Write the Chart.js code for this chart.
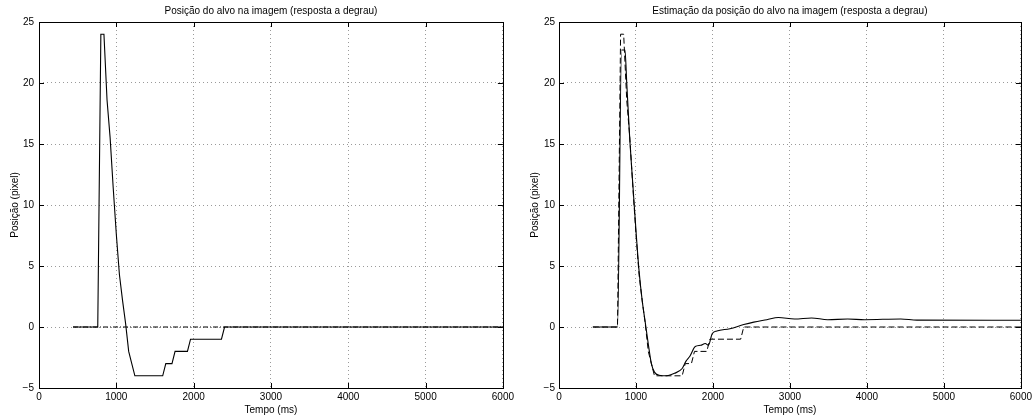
<!DOCTYPE html>
<html>
<head>
<meta charset="utf-8">
<script src="https://cdn.jsdelivr.net/npm/chart.js@4/dist/chart.umd.min.js"></script>
<style>
  body { margin: 0; background: #fff; }
  .box { position: absolute; top: 0; height: 419px; }
  #left { left: 0; width: 517px; }
  #right { left: 517px; width: 518px; }
</style>
</head>
<body>
<div class="box" id="left"><canvas id="chartMeas"></canvas></div>
<div class="box" id="right"><canvas id="chartEst"></canvas></div>
<script>
// measured target position (pixel) vs time (ms)
const tMeas = [440, 760, 800, 840, 880, 920, 960, 1000, 1040, 1080, 1120, 1160, 1200, 1240, 1600, 1640, 1720, 1760, 1920, 1960, 2360, 2400, 6000]
const posMeas = [0, 0, 24, 24, 18.6, 15.5, 11.4, 7.6, 4.3, 2.2, 0.3, -2, -3, -4, -4, -3, -3, -2, -2, -1, -1, 0, 0]

// reference (set point)
const tRef = [440, 6000]
const posRef = [0, 0]

// estimated position
const tEst = [440, 760, 813, 857, 880, 920, 960, 1000, 1040, 1080, 1120, 1160, 1200, 1240, 1300, 1400, 1500, 1600, 1650, 1700, 1770, 1840, 1900, 1940, 1990, 2050, 2220, 2400, 2530, 2700, 2850, 3060, 3280, 3490, 3750, 3970, 4440, 4650, 6000]
const posEst = [0, 0, 22.7, 22.7, 20, 15.3, 11.6, 7.9, 4.6, 2.2, 0.4, -1.4, -3.0, -3.7, -3.95, -4.0, -3.8, -3.4, -2.8, -2.4, -1.6, -1.5, -1.35, -1.5, -0.55, -0.33, -0.14, 0.2, 0.4, 0.6, 0.78, 0.65, 0.74, 0.6, 0.65, 0.6, 0.66, 0.56, 0.55]

const xTicks = [0, 1000, 2000, 3000, 4000, 5000, 6000]
const yTicks = [-5, 0, 5, 10, 15, 20, 25]

Chart.defaults.font.family = "'Liberation Sans', Arial, sans-serif"
Chart.defaults.font.size = 10
Chart.defaults.color = '#000'

const toPoints = (xs, ys) => xs.map((x, i) => ({ x: x, y: ys[i] }))

// matlab style box with inward ticks
const boxPlugin = {
    id: 'box',
    afterDraw(chart) {
        const ctx = chart.ctx
        const { left, right, top, bottom } = chart.chartArea
        const xs = chart.scales.x
        const ys = chart.scales.y
        ctx.save()
        ctx.strokeStyle = '#000'
        ctx.lineWidth = 1
        ctx.beginPath()
        xTicks.forEach(v => {
            const p = Math.round(xs.getPixelForValue(v)) + 0.5
            ctx.moveTo(p, bottom); ctx.lineTo(p, bottom - 5)
            ctx.moveTo(p, top); ctx.lineTo(p, top + 5)
        })
        yTicks.forEach(v => {
            const p = Math.round(ys.getPixelForValue(v)) + 0.5
            ctx.moveTo(left, p); ctx.lineTo(left + 5, p)
            ctx.moveTo(right, p); ctx.lineTo(right - 5, p)
        })
        ctx.stroke()
        ctx.strokeRect(Math.round(left) + 0.5, Math.round(top) + 0.5, Math.round(right - left), Math.round(bottom - top))
        ctx.restore()
    }
}

function makeOptions(title, yWidth, yTitlePad, yTickPad, padRight) {
    return {
        responsive: true,
        maintainAspectRatio: false,
        animation: false,
        layout: { padding: { left: 0, right: padRight, top: 0, bottom: 0 } },
        plugins: {
            legend: { display: false },
            tooltip: { enabled: false },
            title: {
                display: true,
                text: title,
                fullSize: false,
                color: '#000',
                font: { size: 10, weight: 'normal' },
                padding: { top: 5, bottom: 5 }
            }
        },
        scales: {
            x: {
                type: 'linear',
                min: 0,
                max: 6000,
                afterBuildTicks: s => { s.ticks = xTicks.map(v => ({ value: v })) },
                afterFit: s => { s.height = 31 },
                ticks: { padding: 3, maxRotation: 0, color: '#000', callback: v => String(v) },
                grid: { drawTicks: false, color: '#9a9a9a', lineWidth: 1 },
                border: { display: false, dash: [1, 3] },
                title: { display: true, text: 'Tempo (ms)', color: '#000', padding: { top: 0, bottom: 3 } }
            },
            y: {
                min: -5,
                max: 25,
                afterBuildTicks: s => { s.ticks = yTicks.map(v => ({ value: v })) },
                afterFit: s => { s.width = yWidth },
                ticks: {
                    padding: yTickPad,
                    color: '#000',
                    callback: v => String(v).replace('-', '\u2212')
                },
                grid: { drawTicks: false, color: '#9a9a9a', lineWidth: 1 },
                border: { display: false, dash: [1, 3] },
                title: { display: true, text: 'Posição (pixel)', color: '#000', padding: { top: yTitlePad, bottom: 0 } }
            }
        }
    }
}

new Chart(document.querySelector('#chartMeas'), {
    type: 'line',
    data: {
        datasets: [{
            data: toPoints(tRef, posRef),
            borderColor: '#000',
            borderWidth: 1,
            borderDash: [5, 2, 1, 2],
            pointRadius: 0
        }, {
            data: toPoints(tMeas, posMeas),
            borderColor: '#000',
            borderWidth: 1.1,
            pointRadius: 0
        }]
    },
    options: makeOptions('Posição do alvo na imagem (resposta a degrau)', 39, 9, 5, 14),
    plugins: [boxPlugin]
})

new Chart(document.querySelector('#chartEst'), {
    type: 'line',
    data: {
        datasets: [{
            data: toPoints(tMeas, posMeas),
            borderColor: '#000',
            borderWidth: 1,
            borderDash: [6, 3],
            pointRadius: 0
        }, {
            data: toPoints(tEst, posEst),
            borderColor: '#000',
            borderWidth: 1.1,
            cubicInterpolationMode: 'monotone',
            pointRadius: 0
        }]
    },
    options: makeOptions('Estimação da posição do alvo na imagem (resposta a degrau)', 42, 12, 4, 11),
    plugins: [boxPlugin]
})
</script>
</body>
</html>
